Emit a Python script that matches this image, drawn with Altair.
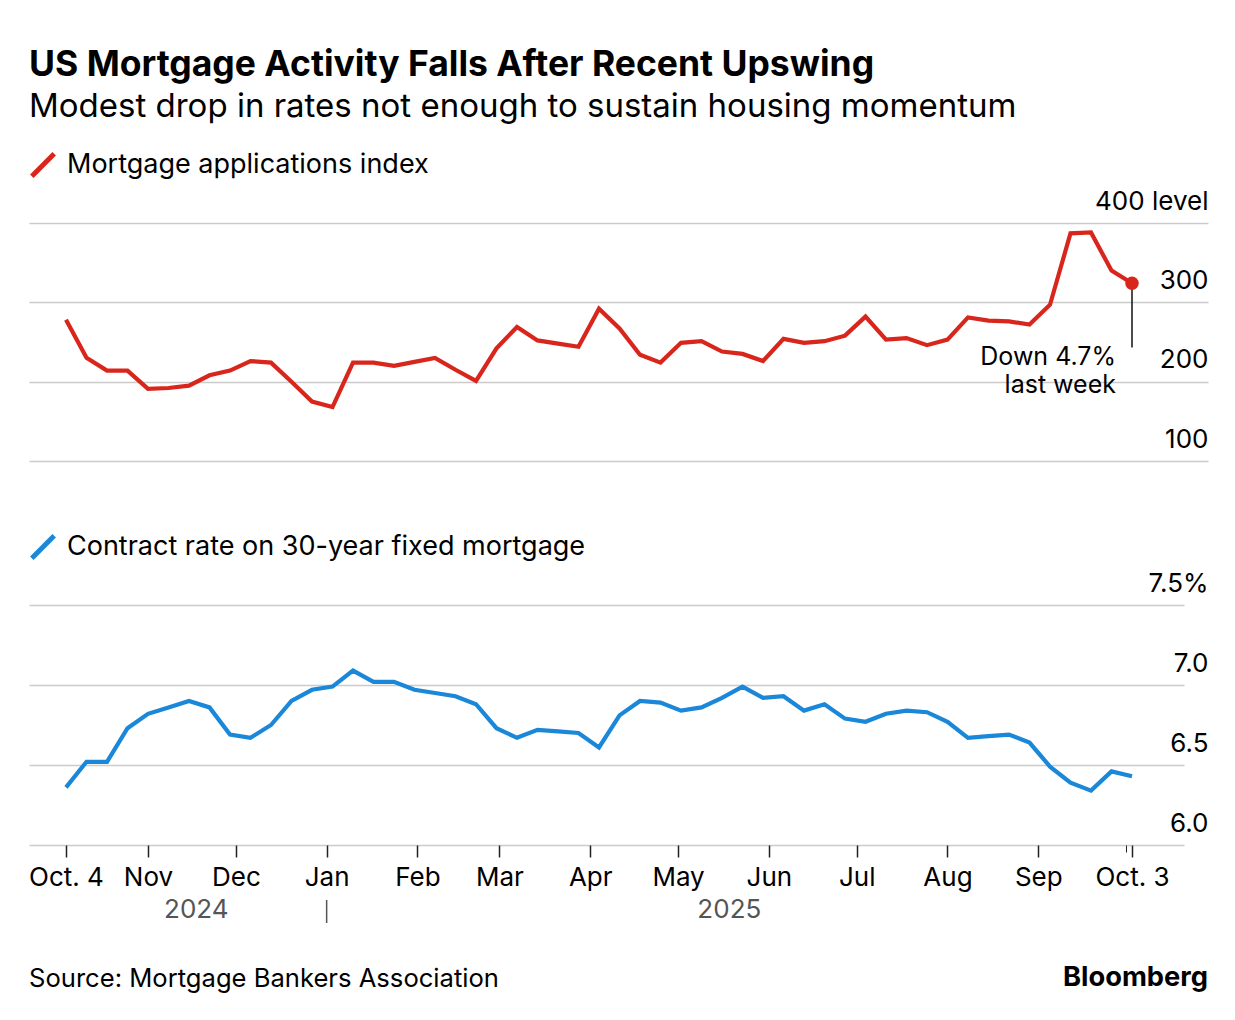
import altair as alt
import pandas as pd

# ---------------- data ----------------
first_week = "2024-10-04"
apps = [278, 230, 214, 214, 191, 192, 195, 208, 214, 226,
        224, 200, 175, 168, 224, 224, 220, 225, 230, 215,
        201, 242, 269, 252, 248, 244, 292, 267, 234, 224,
        249, 251, 238, 235, 226, 254, 249, 251, 258, 282,
        253, 255, 246, 253, 281, 277, 276, 272, 297, 387,
        388, 340, 324]
rates = [6.36, 6.52, 6.52, 6.73, 6.82, 6.86, 6.90, 6.86, 6.69, 6.67,
         6.75, 6.90, 6.97, 6.99, 7.09, 7.02, 7.02, 6.97, 6.95, 6.93,
         6.88, 6.73, 6.67, 6.72, 6.71, 6.70, 6.61, 6.81, 6.90, 6.89,
         6.84, 6.86, 6.92, 6.99, 6.92, 6.93, 6.84, 6.88, 6.79, 6.77,
         6.82, 6.84, 6.83, 6.77, 6.67, 6.68, 6.69, 6.64, 6.49, 6.39,
         6.34, 6.46, 6.43]
tick_dates = ["2024-10-04", "2024-11-01", "2024-12-01", "2025-01-01", "2025-02-01",
              "2025-03-01", "2025-04-01", "2025-05-01", "2025-06-01", "2025-07-01",
              "2025-08-01", "2025-09-01", "2025-10-01", "2025-10-03"]
apps_ticks = [100, 200, 300, 400]
rate_ticks = [6.0, 6.5, 7.0, 7.5]
years = ["2024", "2025"]
year_break = "2025-01-01"
annot_text = "Down 4.7%\nlast week"
annot_rule_end = 243
annot_text_y = 246

title = "US Mortgage Activity Falls After Recent Upswing"
subtitle = "Modest drop in rates not enough to sustain housing momentum"
s1_name = "Mortgage applications index"
s2_name = "Contract rate on 30-year fixed mortgage"
source = "Source: Mortgage Bankers Association"
brand = "Bloomberg"

# ---------------- style ----------------
RED = "#d9261c"
BLUE = "#1a87d9"
GRID = "#cbcbcb"
FONT = "Inter"
W_TOP, H_TOP = 1179, 238
W_BOT, H_BOT = 1155, 240

dates = pd.date_range(first_week, periods=len(apps), freq="7D")
df = pd.DataFrame({"date": dates, "apps": apps, "rate": rates})
last = df.iloc[[-1]].copy()
last["end"] = annot_rule_end
last["ty"] = annot_text_y
last["label"] = annot_text

jan1 = pd.Timestamp(year_break)
yr_df = pd.DataFrame({
    "year": years,
    "mid": [dates[0] + (jan1 - dates[0]) / 2, jan1 + (dates[-1] - jan1) / 2],
})
brk_df = pd.DataFrame({"date": [jan1]})


def dt(s, h=0, mi=0):
    y, m, d = map(int, s.split("-"))
    return alt.DateTime(year=y, month=m, date=d, hours=h, minutes=mi)


x_left = dt("2024-09-21", 8, 47)
x_right_top = dt("2025-10-28", 22, 50)
x_right_bot = dt("2025-10-20", 18, 9)


def x_top(field):
    return alt.X(f"{field}:T", scale=alt.Scale(domain=[x_left, x_right_top]), axis=None)


def y_top(field):
    return alt.Y(
        f"{field}:Q",
        scale=alt.Scale(domain=[100, 400], nice=False, zero=False),
        axis=alt.Axis(orient="right", values=apps_ticks, grid=True, gridColor=GRID,
                      gridWidth=1.5, domain=False, ticks=False, tickSize=0,
                      labelAlign="right", labelBaseline="alphabetic", labelOffset=-14,
                      labelPadding=0, labelFontSize=26, labelFont=FONT,
                      labelColor="black", title=None,
                      labelExpr="datum.value == 400 ? '400 level' : datum.label"),
    )


def x_bot(field):
    return alt.X(
        f"{field}:T",
        scale=alt.Scale(domain=[x_left, x_right_bot]),
        axis=alt.Axis(
            values=[dt(s) for s in tick_dates],
            labelExpr=("year(datum.value) == 2024 && month(datum.value) == 9 ? 'Oct. 4' : "
                       "(year(datum.value) == 2025 && month(datum.value) == 9 && date(datum.value) == 1) ? '' : "
                       "(year(datum.value) == 2025 && month(datum.value) == 9) ? 'Oct. 3' : "
                       "timeFormat(datum.value, '%b')"),
            tickSize={"condition": {"test": "month(datum.value) == 9 && date(datum.value) == 1",
                                    "value": 7}, "value": 12},
            tickWidth={"condition": {"test": "month(datum.value) == 9 && date(datum.value) == 1",
                                     "value": 1}, "value": 1.5},
            tickColor="#222222", domain=False, grid=False, labelFontSize=26,
            labelFont=FONT, labelColor="black", labelPadding=7, labelFlush=False,
            labelOverlap=False, labelBound=False, title=None),
    )


def y_bot(field):
    return alt.Y(
        f"{field}:Q",
        scale=alt.Scale(domain=[6.0, 7.5], nice=False, zero=False),
        axis=alt.Axis(orient="right", values=rate_ticks, grid=True, gridColor=GRID,
                      gridWidth=1.5, domain=False, ticks=False, tickSize=0,
                      labelAlign="right", labelBaseline="alphabetic", labelOffset=-14,
                      labelPadding=24, labelFontSize=26, labelFont=FONT,
                      labelColor="black", title=None,
                      labelExpr="datum.value == 7.5 ? '7.5%' : format(datum.value, '.1f')"),
    )


def legend():
    return alt.Legend(orient="none", legendX=0, legendY=-72, title=None,
                      symbolType="M-1,1L1,-1", symbolStrokeWidth=5, symbolSize=500,
                      labelFontSize=27, labelFont=FONT, labelColor="black",
                      labelOffset=10, labelLimit=0)


# ---------------- top panel ----------------
top_line = alt.Chart(df).transform_calculate(series=f"'{s1_name}'").mark_line(
    strokeWidth=4.2).encode(
    x=x_top("date"), y=y_top("apps"),
    color=alt.Color("series:N", scale=alt.Scale(domain=[s1_name], range=[RED]), legend=legend()),
)
top_rule = alt.Chart(last).mark_rule(color="#111111", strokeWidth=1.5).encode(
    x=x_top("date"), y=y_top("apps"), y2="end:Q")
top_dot = alt.Chart(last).mark_point(filled=True, size=180, color=RED, opacity=1).encode(
    x=x_top("date"), y=y_top("apps"))
top_text = alt.Chart(last).mark_text(align="right", baseline="top", dx=-16, fontSize=25,
                                     font=FONT, color="black", lineBreak="\n",
                                     lineHeight=28).encode(
    x=x_top("date"), y=y_top("ty"), text="label:N")
top = alt.layer(top_line, top_rule, top_dot, top_text).properties(width=W_TOP, height=H_TOP)

# ---------------- bottom panel ----------------
bot_line = alt.Chart(df).transform_calculate(series=f"'{s2_name}'").mark_line(
    strokeWidth=4.2).encode(
    x=x_bot("date"), y=y_bot("rate"),
    color=alt.Color("series:N", scale=alt.Scale(domain=[s2_name], range=[BLUE]), legend=legend()),
)
bot_brk = alt.Chart(brk_df).mark_rule(color="#555555", strokeWidth=1.5).encode(
    x=x_bot("date"), y=alt.value(H_BOT + 55), y2=alt.value(H_BOT + 78))
bot_years = alt.Chart(yr_df).mark_text(fontSize=26, font=FONT, color="#555555",
                                       baseline="middle").encode(
    x=x_bot("mid"), y=alt.value(H_BOT + 65), text="year:N")
src = alt.Chart(pd.DataFrame({"t": [source]})).mark_text(
    align="left", baseline="middle", fontSize=25.6, font=FONT, color="black").encode(
    x=alt.value(0), y=alt.value(H_BOT + 134), text="t:N")
brd = alt.Chart(pd.DataFrame({"t": [brand]})).mark_text(
    align="right", baseline="middle", fontSize=27.3, font=FONT, fontWeight="bold",
    color="black").encode(
    x=alt.value(W_BOT + 24), y=alt.value(H_BOT + 133), text="t:N")
bot = alt.layer(bot_line, bot_brk, bot_years, src, brd).properties(width=W_BOT, height=H_BOT)

chart = alt.vconcat(top, bot, spacing=144, bounds="flush").resolve_scale(
    x="independent", y="independent", color="independent"
).resolve_legend(color="independent").properties(
    title=alt.TitleParams(text=title, subtitle=subtitle, anchor="start", font=FONT,
                          fontSize=35.5, fontWeight="bold", color="black",
                          subtitleFont=FONT, subtitleFontSize=33, subtitleColor="black",
                          subtitlePadding=8, offset=27, frame="group"),
    padding={"left": 20, "top": 39, "right": 10, "bottom": 10},
).configure(font=FONT).configure_view(stroke=None)

chart.save("out.html", embed_options={"renderer": "svg", "actions": False})
